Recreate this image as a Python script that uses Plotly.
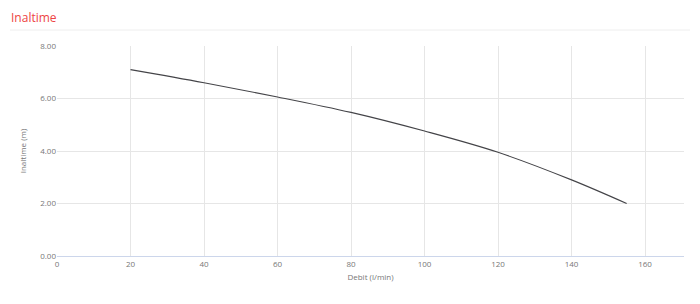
import plotly.graph_objects as go

debit = [20, 40, 60, 80, 100, 120, 140, 155]
inaltime = [7.1, 6.6, 6.06, 5.47, 4.76, 3.95, 2.9, 2.0]
x_ticks = [0, 20, 40, 60, 80, 100, 120, 140, 160]
y_ticks = [0, 2, 4, 6, 8]

fig = go.Figure()
fig.add_trace(go.Scatter(x=debit, y=inaltime, mode="lines",
                         line=dict(color="#444448", width=1.1, shape="spline"),
                         hoverinfo="skip", showlegend=False))

W, H = 700, 304
L, R, T, B = 57, 16, 46, 48
fig.update_layout(
    width=W, height=H,
    margin=dict(l=L, r=R, t=T, b=B),
    paper_bgcolor="white", plot_bgcolor="white",
    font=dict(family="Open Sans, sans-serif", color="#777777", size=8),
    xaxis=dict(range=[0, 170.6], tickvals=x_ticks, ticktext=[str(v) for v in x_ticks],
               showgrid=True, gridcolor="#e6e6e6", gridwidth=1,
               zeroline=False, showline=True, linecolor="#ccd6eb", linewidth=1,
               ticks="", tickfont=dict(size=8, color="#777777"),
               title=dict(text="Debit (l/min)", font=dict(size=8, color="#777777"), standoff=6)),
    yaxis=dict(range=[0, 8], tickvals=y_ticks, ticktext=["%.2f" % v for v in y_ticks],
               showgrid=True, gridcolor="#e6e6e6", gridwidth=1,
               zeroline=False, showline=False, ticks="",
               tickfont=dict(size=8, color="#777777"),
               title=dict(text="Inaltime (m)", font=dict(size=8, color="#777777"), standoff=12)),
    annotations=[dict(text="Inaltime", xref="paper", yref="paper",
                      x=-(L - 9) / (W - L - R), y=1 + (T - 17) / (H - T - B),
                      xanchor="left", yanchor="middle", showarrow=False,
                      font=dict(family="Open Sans, sans-serif", size=12, color="#ee4444"))],
    shapes=[dict(type="line", xref="paper", yref="paper",
                 x0=-(L - 10) / (W - L - R), x1=1 + (R - 10) / (W - L - R),
                 y0=1 + (T - 30) / (H - T - B), y1=1 + (T - 30) / (H - T - B),
                 line=dict(color="#eeeeee", width=1))],
)

fig.write_html("out.html")
